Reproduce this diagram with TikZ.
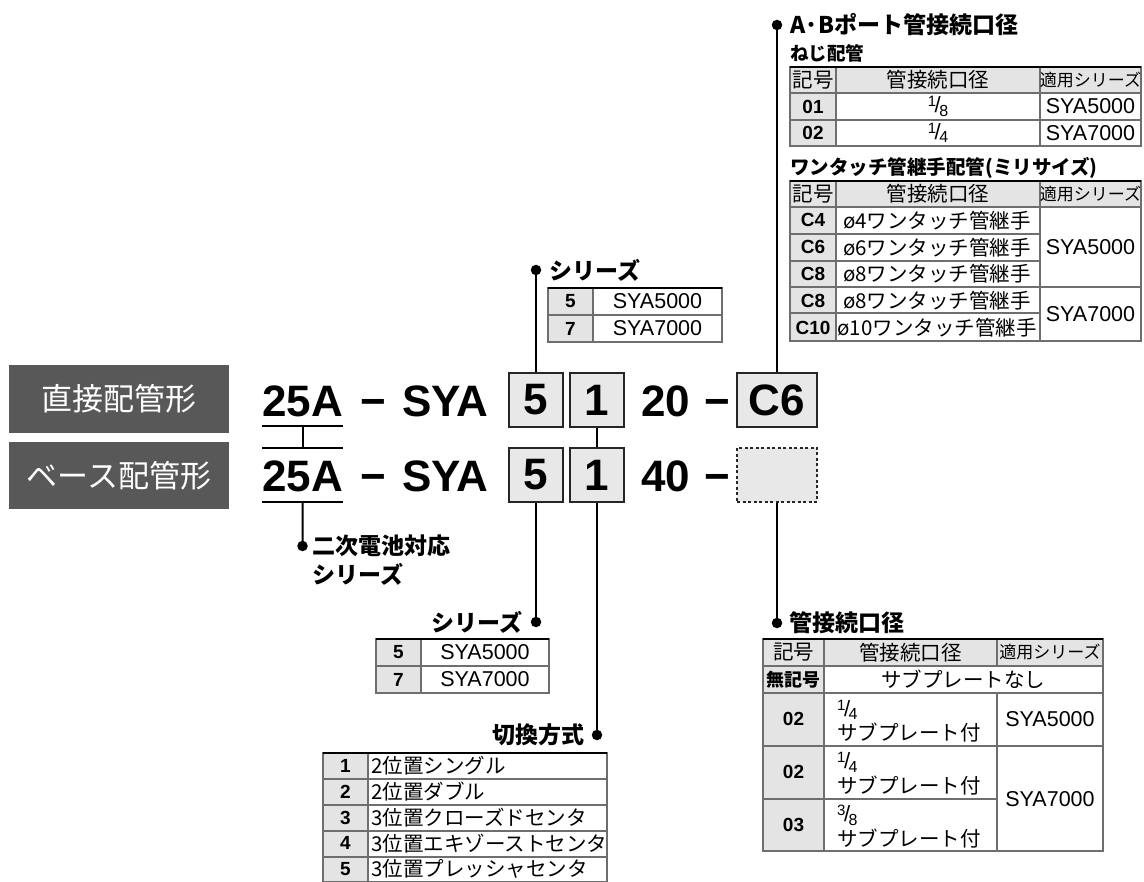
\documentclass[tikz,border=0pt]{standalone}
\usepackage{fontspec}
\setmainfont{Liberation Sans}
\newfontfamily\jp{Noto Sans CJK JP}
\usepackage{tikz}
\usetikzlibrary{positioning,calc}

\definecolor{labelgray}{HTML}{585858}
\definecolor{cellgray}{HTML}{E4E4E4}
\definecolor{boxgray}{HTML}{E8E8E8}
\definecolor{rulegray}{HTML}{6E6E6E}

% small fraction as printed in the tables
\newcommand{\frc}[2]{\raisebox{0.55ex}{\fontsize{15}{15}\selectfont#1}\kern-1.5pt{\fontsize{22}{22}\selectfont/}\kern-1.5pt\raisebox{-0.3ex}{\fontsize{16}{16}\selectfont#2}}

\begin{document}
\begin{tikzpicture}[x=1pt,y=-1pt,
    typebox/.style={fill=labelgray, text=white, minimum width=220pt, minimum height=68pt, inner sep=0pt, font=\jp\fontsize{31}{31}\selectfont},
    code/.style={inner sep=0pt, font=\bfseries\fontsize{44}{44}\selectfont},
    codebox/.style={draw=black!85, fill=boxgray, line width=1.4pt, minimum height=54pt, minimum width=54pt, inner sep=0pt, font=\bfseries\fontsize{44}{44}\selectfont},
    lead/.style={line width=2pt},
    leaddot/.style={circle, fill=black, inner sep=0pt, minimum size=10.5pt},
    title/.style={inner sep=0pt, font=\jp\bfseries\fontsize{23}{29}\selectfont},
    grid/.style={draw=rulegray, line width=1.2pt},
    topline/.style={line width=2pt},
    cell/.style={inner sep=0pt, font=\fontsize{21.5}{21.5}\selectfont},
    jcell/.style={inner sep=0pt, font=\jp\fontsize{20.5}{22}\selectfont},
    jhead/.style={inner sep=0pt, font=\jp\fontsize{17}{17}\selectfont},
    key/.style={inner sep=0pt, font=\bfseries\fontsize{19}{19}\selectfont}
]
\useasboundingbox (0,0) rectangle (1144,882);

% type labels
\node[typebox] (direct) at (119,399) {直接配管形};
\node[typebox, minimum height=67pt] (base) at (119,475.5) {ベース配管形};

% code, direct piping
\node[code, anchor=base west] (yearA) at (262,417) {25A};
\node[code, anchor=base] (dashA1) at (373,417) {−};
\node[code, anchor=base west] (syaA) at (402,417) {SYA};
\node[codebox] (serA) at (536,400) {5};
\node[codebox] (valA) at (597,400) {1};
\node[code, anchor=base west] (pipeA) at (641,417) {20};
\node[code, anchor=base] (dashA2) at (717,417) {−};
\node[codebox, minimum width=80pt] (portA) at (777,400) {C6};

% code, base piping
\node[code, anchor=base west] (yearB) at (262,492) {25A};
\node[code, anchor=base] (dashB1) at (373,492) {−};
\node[code, anchor=base west] (syaB) at (402,492) {SYA};
\node[codebox] (serB) at (536,475) {5};
\node[codebox] (valB) at (597,475) {1};
\node[code, anchor=base west] (pipeB) at (641,492) {40};
\node[code, anchor=base] (dashB2) at (717,492) {−};
\node[codebox, minimum width=80pt, dash pattern=on 3pt off 2.5pt] (portB) at (777,475) {};

% 25A lines
\draw[lead] ($(yearA.base west)+(0,9)$) -- ($(yearA.base east)+(0,9)$);
\draw[lead] ($(yearB.base west)+(0,-44)$) -- ($(yearB.base east)+(0,-44)$);
\draw[lead] ($(yearB.base west)+(0,10)$) -- ($(yearB.base east)+(0,10)$);
\coordinate (ulA) at ($(yearA.base)+(0,9)$);
\coordinate (olB) at ($(yearB.base)+(0,-44)$);
\coordinate (ulB) at ($(yearB.base)+(0,10)$);
\draw[lead] (ulA) -- (olB);
\draw[lead] (valA.south) -- (valB.north);

% leaders
\node[leaddot] (dotSerTop) at (536,270) {};
\node[leaddot] (dotPortTop) at (777,25) {};
\node[leaddot] (dotBattery) at (302.5,546) {};
\node[leaddot] (dotSerBot) at (536,622) {};
\node[leaddot] (dotValve) at (597,735) {};
\node[leaddot] (dotPort) at (777,623) {};
\draw[lead] (dotSerTop.center) -- (serA.north);
\draw[lead] (dotPortTop.center) -- (portA.north);
\draw[lead] (ulB) -- (dotBattery.center);
\draw[lead] (serB.south) -- (dotSerBot.center);
\draw[lead] (valB.south) -- (dotValve.center);
\draw[lead] (portB.south) -- (dotPort.center);

% titles
\node[title, right=8pt of dotSerTop] (serTopTitle) {シリーズ};
\node[title, anchor=west] (portTopTitle) at (790,25) {A·Bポート管接続口径};
\node[title, anchor=west, font=\jp\bfseries\fontsize{18.5}{18.5}\selectfont] (screwTitle) at (790,53) {ねじ配管};
\node[title, anchor=west, font=\jp\bfseries\fontsize{19.5}{19.5}\selectfont] (touchTitle) at (790,168) {ワンタッチ管継手配管(ミリサイズ)};
\node[title, anchor=west, align=left] (batteryTitle) at (312,560.5) {二次電池対応\\シリーズ};
\node[title, left=8pt of dotSerBot] (serBotTitle) {シリーズ};
\node[title, left=7pt of dotValve] (valveTitle) {切換方式};
\node[title, right=7pt of dotPort] (portTitle) {管接続口径};

% series table, top
\fill[cellgray] (548,288) rectangle (593,342);
\draw[grid] (548,288) rectangle (722,342);
\draw[grid] (548,315) -- (722,315);
\draw[grid] (593,288) -- (593,342);
\draw[topline] (548,288) -- (722,288);
\foreach \k/\s [count=\i] in {5/SYA5000, 7/SYA7000} {
  \node[key] (serTopKey\i) at (570.5,{288+27*\i-13.5}) {\k};
  \node[cell] (serTopName\i) at (657.5,{288+27*\i-13.5}) {\s};
}

% series table, bottom
\fill[cellgray] (376,639) rectangle (421,693);
\draw[grid] (376,639) rectangle (549,693);
\draw[grid] (376,666) -- (549,666);
\draw[grid] (421,639) -- (421,693);
\draw[topline] (376,639) -- (549,639);
\foreach \k/\s [count=\i] in {5/SYA5000, 7/SYA7000} {
  \node[key] (serBotKey\i) at (398.5,{639+27*\i-13.5}) {\k};
  \node[cell] (serBotName\i) at (485,{639+27*\i-13.5}) {\s};
}

% switching table
\fill[cellgray] (323,753) rectangle (368,882);
\draw[grid] (323,753) rectangle (607,882);
\foreach \y in {779,805,831,857} \draw[grid] (323,\y) -- (607,\y);
\draw[grid] (368,753) -- (368,882);
\draw[topline] (323,753) -- (607,753);
\foreach \d [count=\i] in {2位置シングル, 2位置ダブル, 3位置クローズドセンタ, 3位置エキゾーストセンタ, 3位置プレッシャセンタ} {
  \node[key] (valveKey\i) at (345.5,{753+25.8*\i-12.9}) {\i};
  \node[jcell, anchor=west] (valveName\i) at (371,{753+25.8*\i-12.9}) {\d};
}

% A/B port table, screw piping
\fill[cellgray] (790,67) rectangle (1141,93);
\fill[cellgray] (790,93) rectangle (836,146);
\draw[grid] (790,67) rectangle (1141,146);
\foreach \y in {93,120} \draw[grid] (790,\y) -- (1141,\y);
\foreach \x in {836,1040} \draw[grid] (\x,67) -- (\x,146);
\draw[topline] (790,67) -- (1141,67);
\node[jcell] (screwHeadKey) at (813,80) {記号};
\node[jcell] (screwHeadSize) at (938,80) {管接続口径};
\node[jhead] (screwHeadSer) at (1090.5,80) {適用シリーズ};
\node[key] (screwKey1) at (813,106.5) {01};
\node[cell] (screwSize1) at (938,106.5) {\frc18};
\node[cell] (screwSer1) at (1090.5,106.5) {SYA5000};
\node[key] (screwKey2) at (813,133) {02};
\node[cell] (screwSize2) at (938,133) {\frc14};
\node[cell] (screwSer2) at (1090.5,133) {SYA7000};

% A/B port table, one-touch fittings
\fill[cellgray] (790,181) rectangle (1141,207);
\fill[cellgray] (790,207) rectangle (836,341);
\draw[grid] (790,181) rectangle (1141,341);
\draw[grid] (790,207) -- (1141,207);
\draw[grid] (790,287) -- (1141,287);
\foreach \y in {234,261,313} \draw[grid] (790,\y) -- (1040,\y);
\foreach \x in {836,1040} \draw[grid] (\x,181) -- (\x,341);
\draw[topline] (790,181) -- (1141,181);
\node[jcell] (touchHeadKey) at (813,194) {記号};
\node[jcell] (touchHeadSize) at (938,194) {管接続口径};
\node[jhead] (touchHeadSer) at (1090.5,194) {適用シリーズ};
\foreach \k/\d [count=\i] in {C4/ø4ワンタッチ管継手, C6/ø6ワンタッチ管継手, C8/ø8ワンタッチ管継手, C8/ø8ワンタッチ管継手, C10/ø10ワンタッチ管継手} {
  \node[key] (touchKey\i) at (813,{207+26.8*\i-13.4}) {\k};
  \node[jcell] (touchSize\i) at (937,{207+26.8*\i-13.4}) {\d};
}
\node[cell] (touchSer1) at (1090.5,247) {SYA5000};
\node[cell] (touchSer2) at (1090.5,314) {SYA7000};

% port table, base piping
\fill[cellgray] (763,639) rectangle (1103,666);
\fill[cellgray] (763,666) rectangle (824,851);
\draw[grid] (763,639) rectangle (1103,851);
\foreach \y in {666,693,746} \draw[grid] (763,\y) -- (1103,\y);
\draw[grid] (763,799) -- (997,799);
\draw[grid] (824,639) -- (824,851);
\draw[grid] (997,639) -- (997,666);
\draw[grid] (997,693) -- (997,851);
\draw[topline] (763,639) -- (1103,639);
\node[jcell] (baseHeadKey) at (793.5,652.5) {記号};
\node[jcell] (baseHeadSize) at (910.5,652.5) {管接続口径};
\node[jhead] (baseHeadSer) at (1050,652.5) {適用シリーズ};
\node[jcell, font=\jp\bfseries\fontsize{18}{18}\selectfont] (baseKey0) at (793.5,679.5) {無記号};
\node[jcell] (baseNone) at (963,679.5) {サブプレートなし};
\foreach \k/\a/\b [count=\i] in {02/1/4, 02/1/4, 03/3/8} {
  \node[key] (baseKey\i) at (793.5,{693+52.7*\i-26.35}) {\k};
  \node[cell, anchor=west] (baseFrac\i) at (837,{693+52.7*\i-36}) {\frc{\a}{\b}};
  \node[jcell, anchor=west] (baseSub\i) at (837,{693+52.7*\i-13}) {サブプレート付};
}
\node[cell] (baseSer1) at (1050,719.5) {SYA5000};
\node[cell] (baseSer2) at (1050,799) {SYA7000};
\end{tikzpicture}
\end{document}
